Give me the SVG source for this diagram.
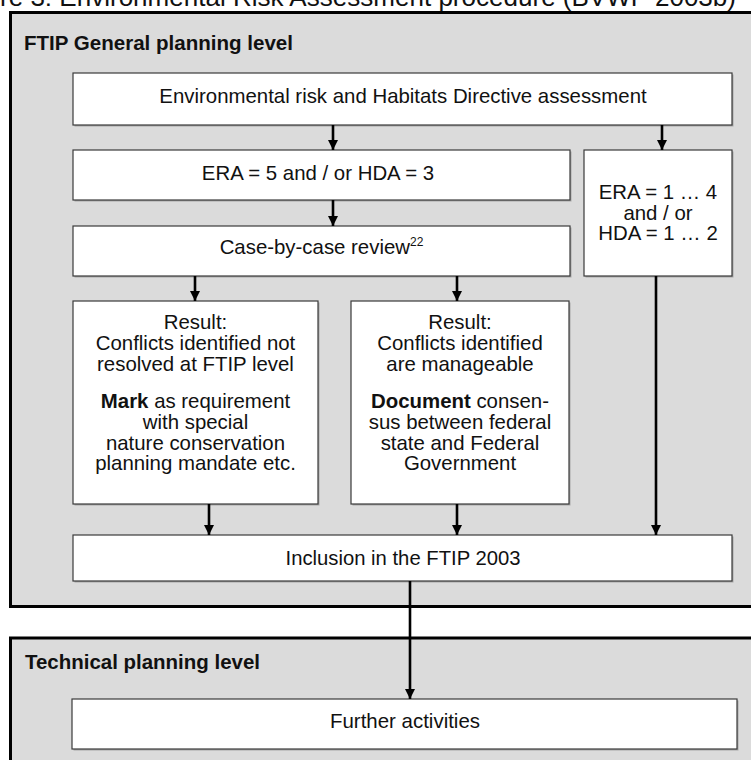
<svg xmlns="http://www.w3.org/2000/svg" width="751" height="760" viewBox="0 0 751 760">
<style>
.panel{fill:#dbdbdb;stroke:#000;stroke-width:3}
.box{fill:#fff;stroke:#3a3a3a;stroke-width:1.2}
.shadow{fill:#a8a8a8}
.t{font-family:"Liberation Sans",Arial,sans-serif;font-size:20.4px;fill:#111;text-anchor:middle}
.h{font-family:"Liberation Sans",Arial,sans-serif;font-size:20px;font-weight:bold;fill:#111}
.cap{font-family:"Liberation Sans",Arial,sans-serif;font-size:26px;fill:#111}
.c{stroke:#000;stroke-width:2.6;fill:none;marker-end:url(#ah)}
</style>
<defs>
<marker id="ah" markerUnits="userSpaceOnUse" markerWidth="10" markerHeight="10" refX="10" refY="5" orient="auto">
<path d="M0,0 L10,5 L0,10 z" fill="#000"/>
</marker>
</defs>
<rect width="751" height="760" fill="#fff"/>
<text class="cap" x="0" y="6" textLength="736" lengthAdjust="spacingAndGlyphs">re 3: Environmental Risk Assessment procedure (BVWP 2003b)</text>

<g id="panel-ftip">
<rect class="panel" x="10.5" y="12.5" width="760" height="594"/>
<text class="h" x="24" y="50" textLength="269" lengthAdjust="spacingAndGlyphs">FTIP General planning level</text>
</g>
<g id="panel-technical">
<rect class="panel" x="10.5" y="638" width="760" height="150"/>
<text class="h" x="25" y="669" textLength="235" lengthAdjust="spacingAndGlyphs">Technical planning level</text>
</g>

<g id="node-assessment">
<rect class="shadow" x="74.5" y="74.5" width="659" height="52"/>
<rect class="box" x="73" y="73" width="659" height="52"/>
<text class="t" x="403" y="103">Environmental risk and Habitats Directive assessment</text>
</g>
<g id="node-era5">
<rect class="shadow" x="74.5" y="151.5" width="497" height="50"/>
<rect class="box" x="73" y="150" width="497" height="50"/>
<text class="t" x="318" y="180">ERA = 5 and / or HDA = 3</text>
</g>
<g id="node-era14">
<rect class="shadow" x="585.5" y="151.5" width="148" height="126"/>
<rect class="box" x="584" y="150" width="148" height="126"/>
<text class="t" x="658" y="199">ERA = 1 … 4</text>
<text class="t" x="658" y="220">and / or</text>
<text class="t" x="658" y="240">HDA = 1 … 2</text>
</g>
<g id="node-review">
<rect class="shadow" x="74.5" y="227.5" width="497" height="50"/>
<rect class="box" x="73" y="226" width="497" height="50"/>
<text class="t" x="321.5" y="254">Case-by-case review<tspan font-size="12" dy="-8">22</tspan></text>
</g>
<g id="node-not-resolved">
<rect class="shadow" x="74.5" y="302.5" width="245" height="203"/>
<rect class="box" x="73" y="301" width="245" height="203"/>
<text class="t" x="195.5" y="329">Result:</text>
<text class="t" x="195.5" y="350">Conflicts identified not</text>
<text class="t" x="195.5" y="371">resolved at FTIP level</text>
<text class="t" x="195.5" y="408"><tspan font-weight="bold">Mark</tspan> as requirement</text>
<text class="t" x="195.5" y="429">with special</text>
<text class="t" x="195.5" y="450">nature conservation</text>
<text class="t" x="195.5" y="470">planning mandate etc.</text>
</g>
<g id="node-manageable">
<rect class="shadow" x="352.5" y="302.5" width="218" height="203"/>
<rect class="box" x="351" y="301" width="218" height="203"/>
<text class="t" x="460" y="329">Result:</text>
<text class="t" x="460" y="350">Conflicts identified</text>
<text class="t" x="460" y="371">are manageable</text>
<text class="t" x="460" y="408"><tspan font-weight="bold">Document</tspan> consen-</text>
<text class="t" x="460" y="429">sus between federal</text>
<text class="t" x="460" y="450">state and Federal</text>
<text class="t" x="460" y="470">Government</text>
</g>
<g id="node-inclusion">
<rect class="shadow" x="74.5" y="536.5" width="659" height="46"/>
<rect class="box" x="73" y="535" width="659" height="46"/>
<text class="t" x="403" y="565" textLength="235" lengthAdjust="spacingAndGlyphs">Inclusion in the FTIP 2003</text>
</g>
<g id="node-further">
<rect class="shadow" x="73.5" y="700.5" width="665" height="50"/>
<rect class="box" x="72" y="699" width="665" height="50"/>
<text class="t" x="405" y="728" textLength="150" lengthAdjust="spacingAndGlyphs">Further activities</text>
</g>

<g id="connectors">
<line class="c" x1="333" y1="125" x2="333" y2="150"/>
<line class="c" x1="662" y1="125" x2="662" y2="150"/>
<line class="c" x1="333" y1="200" x2="333" y2="226"/>
<line class="c" x1="195" y1="276" x2="195" y2="301"/>
<line class="c" x1="457" y1="276" x2="457" y2="301"/>
<line class="c" x1="209" y1="504" x2="209" y2="535"/>
<line class="c" x1="457" y1="504" x2="457" y2="535"/>
<line class="c" x1="656" y1="276" x2="656" y2="535"/>
<line class="c" x1="410" y1="581" x2="410" y2="699"/>
</g>
</svg>
